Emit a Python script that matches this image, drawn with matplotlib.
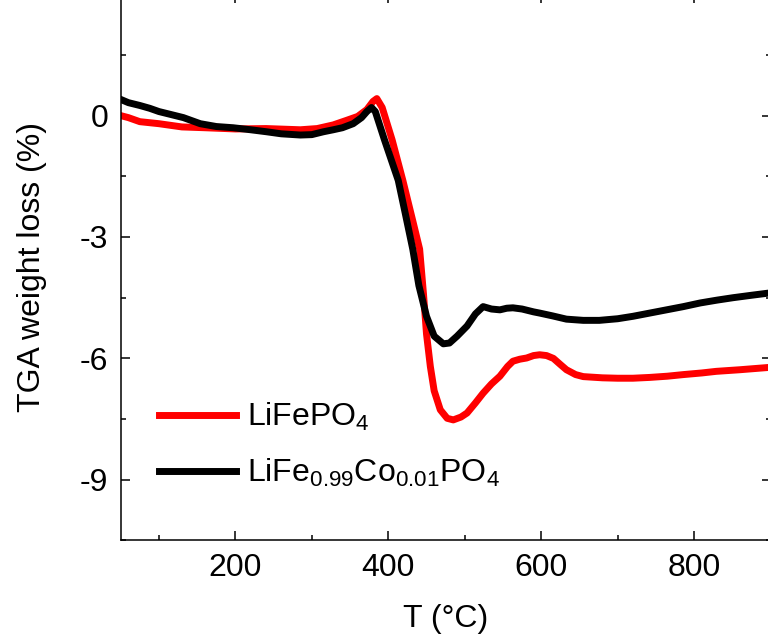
import matplotlib
matplotlib.use("Agg")
import matplotlib.pyplot as plt
from matplotlib.ticker import MultipleLocator

plt.rcParams['font.family'] = ['Liberation Sans', 'DejaVu Sans']
plt.rcParams['mathtext.fontset'] = 'custom'
plt.rcParams['mathtext.rm'] = 'Liberation Sans'
plt.rcParams['mathtext.it'] = 'Liberation Sans'

# LiFePO4
t_red = [50, 60, 75, 100, 130, 160, 200, 240, 285, 307, 328, 345, 360, 372, 380, 385,
         392, 405, 419, 432, 441, 446, 450, 455, 460, 468, 477, 485, 495, 503, 514,
         524, 535, 546, 556, 563, 572, 581, 590, 598, 607, 616, 625, 633, 645, 655,
         680, 700, 720, 742, 765, 786, 810, 829, 860, 880, 900]
w_red = [0.0, -0.05, -0.15, -0.2, -0.28, -0.3, -0.33, -0.32, -0.35, -0.32, -0.23, -0.12,
         -0.02, 0.15, 0.35, 0.42, 0.2, -0.6, -1.6, -2.6, -3.3, -4.4, -5.4, -6.2, -6.8,
         -7.27, -7.48, -7.52, -7.45, -7.35, -7.1, -6.86, -6.63, -6.44, -6.2, -6.07,
         -6.02, -5.99, -5.93, -5.91, -5.93, -6.0, -6.15, -6.28, -6.4, -6.45, -6.48,
         -6.49, -6.49, -6.47, -6.44, -6.4, -6.36, -6.32, -6.28, -6.25, -6.22]

# LiFe0.99Co0.01PO4
t_blk = [50, 60, 75, 88, 100, 115, 132, 154, 175, 197, 220, 241, 260, 285, 300, 315,
         328, 340, 354, 365, 372, 378, 383, 395, 413, 422, 432, 440, 450, 460, 472,
         480, 490, 503, 514, 524, 535, 546, 555, 563, 575, 590, 598, 615, 633, 655,
         676, 700, 720, 742, 764, 786, 808, 830, 851, 875, 900]
w_blk = [0.4, 0.32, 0.25, 0.18, 0.1, 0.03, -0.05, -0.2, -0.27, -0.3, -0.35, -0.4, -0.45,
         -0.48, -0.47, -0.4, -0.35, -0.3, -0.2, -0.05, 0.1, 0.2, 0.1, -0.6, -1.6, -2.4,
         -3.3, -4.2, -4.96, -5.45, -5.64, -5.62, -5.45, -5.2, -4.9, -4.72, -4.78, -4.8,
         -4.76, -4.75, -4.78, -4.85, -4.88, -4.95, -5.03, -5.06, -5.06, -5.02, -4.96,
         -4.88, -4.8, -4.72, -4.63, -4.56, -4.5, -4.44, -4.38]

labels = [r'LiFePO$_\mathregular{4}$', r'LiFe$_\mathregular{0.99}$Co$_\mathregular{0.01}$PO$_\mathregular{4}$']
x_ticks = [200, 400, 600, 800]
y_ticks = [0, -3, -6, -9]

fig = plt.figure(figsize=(7.68, 6.37), dpi=100)
ax = fig.add_axes([0.1572, 0.1515, 0.8461, 0.8576])

ax.plot(t_red, w_red, color='#ff0000', lw=5, label=labels[0], solid_joinstyle='round')
ax.plot(t_blk, w_blk, color='black', lw=5, label=labels[1], solid_joinstyle='round')

ax.set_xlim(50, 900)
ax.set_ylim(-10.5, 3.0)
ax.set_xticks(x_ticks)
ax.set_yticks(y_ticks)
ax.set_yticklabels([str(v) for v in y_ticks])
ax.xaxis.set_minor_locator(MultipleLocator(100))
ax.yaxis.set_minor_locator(MultipleLocator(1.5))
ax.tick_params(which='both', direction='in', top=True, right=True, width=1.1,
               labelsize=23)
ax.tick_params(which='major', length=6.5, pad=9)
ax.tick_params(which='minor', length=3.5)
for s in ax.spines.values():
    s.set_linewidth(1.1)

ax.set_xlabel('T (°C)', fontsize=23, labelpad=15)
ax.set_ylabel('TGA weight loss (%)', fontsize=23, labelpad=24)

ax.legend(frameon=False, fontsize=23, loc='center left',
          bbox_to_anchor=(0.059, 0.1745), borderpad=0, borderaxespad=0,
          handlelength=2.4, handletextpad=0.35, labelspacing=0.75)

fig.savefig('out.png', dpi=100)
